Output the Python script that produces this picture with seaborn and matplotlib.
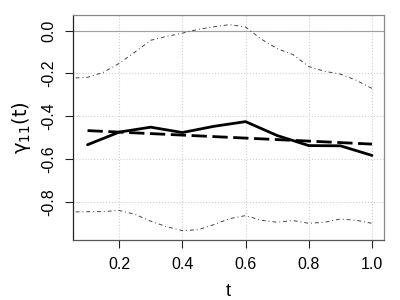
import seaborn as sns
import matplotlib.pyplot as plt
import pandas as pd

# estimate and mean curve at the grid points
t = [0.1, 0.2, 0.3, 0.4, 0.5, 0.6, 0.7, 0.8, 0.9, 1.0]
gamma_hat = [-0.533, -0.474, -0.451, -0.476, -0.447, -0.425, -0.490, -0.537, -0.538, -0.583]
gamma_mean = [-0.467, -0.474, -0.481, -0.488, -0.495, -0.502, -0.509, -0.516, -0.523, -0.530]

# confidence band (smooth)
t_band = [0.05, 0.1, 0.15, 0.2, 0.25, 0.3, 0.35, 0.4, 0.45, 0.5, 0.55, 0.6, 0.65,
          0.7, 0.75, 0.8, 0.85, 0.9, 0.95, 1.0]
upper = [-0.222, -0.218, -0.195, -0.153, -0.100, -0.045, -0.027, -0.012, 0.006, 0.018,
         0.028, 0.017, -0.040, -0.084, -0.112, -0.168, -0.190, -0.203, -0.232, -0.270]
lower = [-0.847, -0.846, -0.845, -0.840, -0.858, -0.890, -0.916, -0.934, -0.930, -0.906,
         -0.878, -0.864, -0.886, -0.895, -0.887, -0.900, -0.895, -0.880, -0.886, -0.900]

est = pd.DataFrame({"t": t, "hat": gamma_hat, "mean": gamma_mean})
band = pd.DataFrame({"t": t_band, "upper": upper, "lower": lower})

sns.set_style("white")
plt.rcParams["font.family"] = ["Liberation Sans", "DejaVu Sans"]
plt.rcParams["text.color"] = "black"
plt.rcParams["axes.labelcolor"] = "black"
plt.rcParams["xtick.color"] = "black"
plt.rcParams["ytick.color"] = "black"

fig = plt.figure(figsize=(4, 3), dpi=100)
ax = fig.add_axes([0.1825, 0.2, 0.7775, 0.75])

ax.grid(True, color="#d0d0d0", linestyle=":", linewidth=0.8)
ax.axhline(0, color="#a0a0a0", linewidth=0.8, zorder=1)

sns.lineplot(data=band, x="t", y="upper", ax=ax, color="#444444",
             linewidth=0.7, dashes=False)
sns.lineplot(data=band, x="t", y="lower", ax=ax, color="#444444",
             linewidth=0.7, dashes=False)
for line in ax.lines[-2:]:
    line.set_dashes((1, 3, 4, 3))

sns.lineplot(data=est, x="t", y="mean", ax=ax, color="black", linewidth=2.0)
ax.lines[-1].set_dashes((5.5, 2))
sns.lineplot(data=est, x="t", y="hat", ax=ax, color="black", linewidth=2.0)

ax.set_xlim(0.054, 1.038)
ax.set_ylim(-0.978, 0.073)
ax.set_xticks([0.2, 0.4, 0.6, 0.8, 1.0])
ax.set_yticks([0.0, -0.2, -0.4, -0.6, -0.8])
ax.set_yticklabels(["0.0", "-0.2", "-0.4", "-0.6", "-0.8"], rotation=90, va="center")
ax.tick_params(axis="both", direction="out", length=6, width=0.8, labelsize=11.5,
               color="#222222", left=True, bottom=True, pad=6)

for side in ["top", "right"]:
    ax.spines[side].set_color("#888888")
ax.spines["left"].set_color("#222222")
ax.spines["bottom"].set_color("#555555")
for s in ax.spines.values():
    s.set_linewidth(0.9)

ax.set_xlabel("t", fontsize=13, labelpad=8)
ax.set_ylabel(r"$\mathrm{\gamma_{11}(t)}$", fontsize=14, labelpad=6)

plt.savefig("out.png", dpi=100)
